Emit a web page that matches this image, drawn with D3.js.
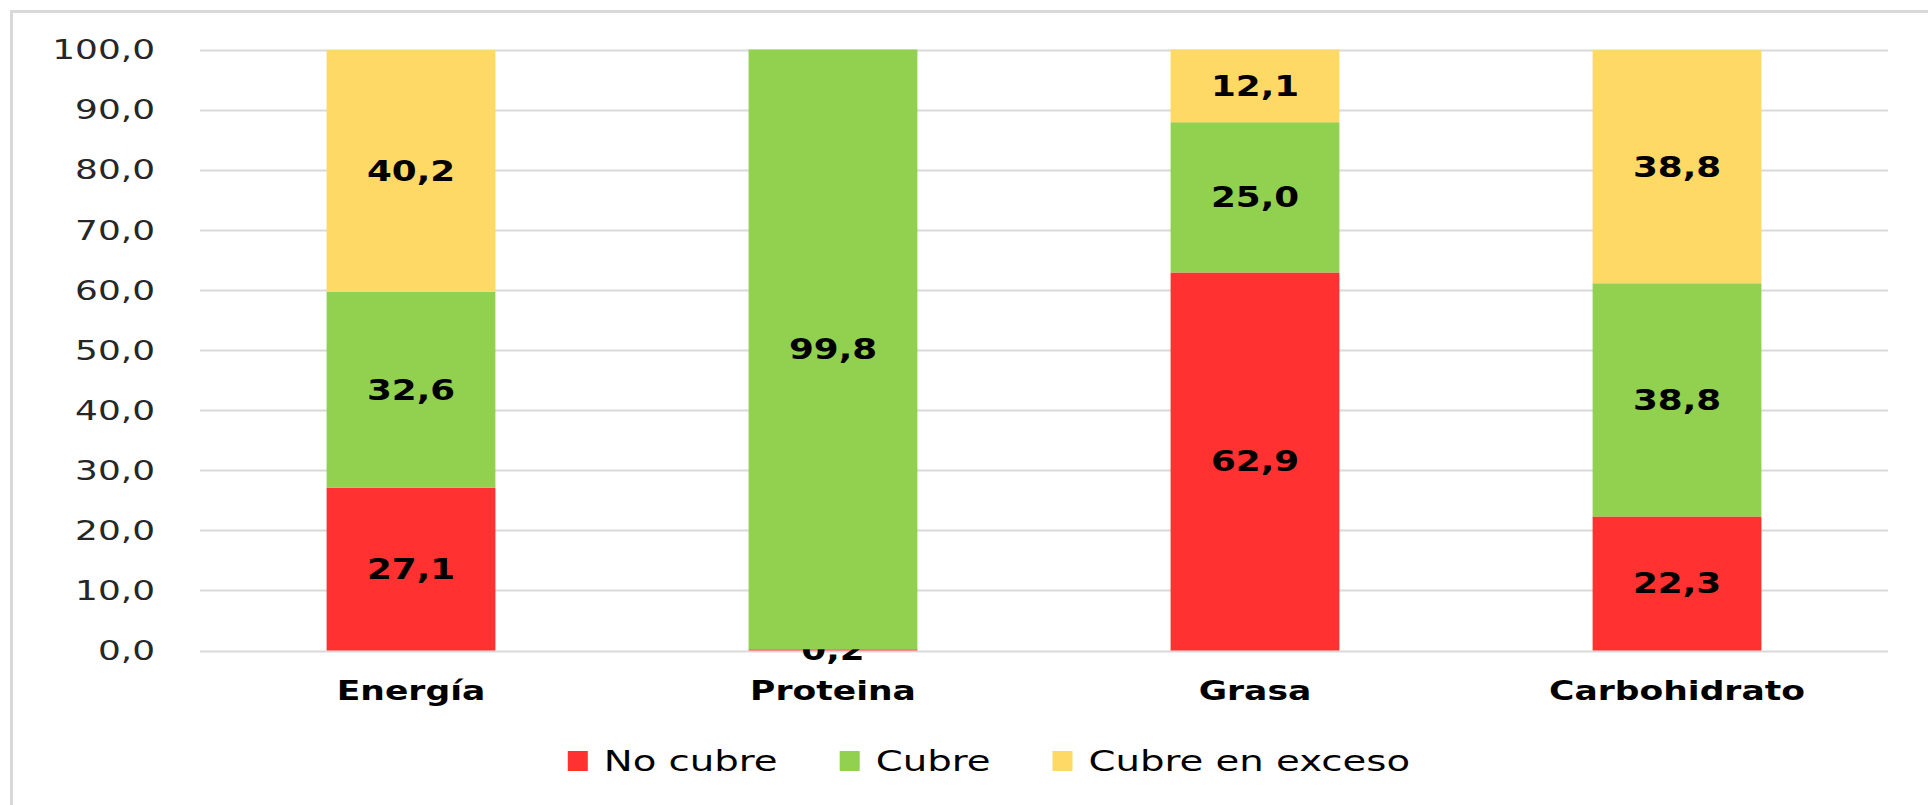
<!DOCTYPE html>
<html>
<head>
<meta charset="utf-8">
<script src="https://cdn.jsdelivr.net/npm/d3@7"></script>
<style>
  body { margin: 0; background: #fff; }
</style>
</head>
<body>
<script>
var categories = ["Energía", "Proteina", "Grasa", "Carbohidrato"];
var noCubre = [27.1, 0.2, 62.9, 22.3];
var cubre = [32.6, 99.8, 25.0, 38.8];
var exceso = [40.2, 0, 12.1, 38.8];
var seriesNames = ["No cubre", "Cubre", "Cubre en exceso"];
var seriesColors = ["#FF3131", "#92D050", "#FFD966"];
var yTicks = [0, 10, 20, 30, 40, 50, 60, 70, 80, 90, 100];

var width = 1928, height = 805;
var plotLeft = 200, plotRight = 1888, plotTop = 49.5, plotBottom = 650.5;

var fmt = function(v) { return v.toFixed(1).replace(".", ","); };

var table = categories.map(function(c, i) {
  return { cat: c, noCubre: noCubre[i], cubre: cubre[i], exceso: exceso[i] };
});
var stack = d3.stack().keys(["noCubre", "cubre", "exceso"])(table);

var svg = d3.select("body").append("svg")
  .attr("width", width)
  .attr("height", height)
  .style("display", "block");

// chart frame (only top and left edges are in view)
svg.append("rect")
  .attr("x", 11.5).attr("y", 11.5)
  .attr("width", 2000).attr("height", 1000)
  .attr("fill", "none")
  .attr("stroke", "#d9d9d9")
  .attr("stroke-width", 3);

var x = d3.scaleBand().domain(categories).range([plotLeft, plotRight])
  .paddingInner(0.6).paddingOuter(0.3);
var y = d3.scaleLinear().domain([0, 100]).range([plotBottom, plotTop]);

// gridlines
svg.append("g").selectAll("line")
  .data(yTicks)
  .enter().append("line")
  .attr("x1", plotLeft).attr("x2", plotRight)
  .attr("y1", function(d) { return Math.round(y(d)) + 0.5; })
  .attr("y2", function(d) { return Math.round(y(d)) + 0.5; })
  .attr("stroke", "#d9d9d9")
  .attr("stroke-width", 2);

// y tick labels
svg.append("g").selectAll("text")
  .data(yTicks)
  .enter().append("text")
  .text(function(d) { return fmt(d); })
  .attr("transform", function(d) { return "translate(155," + y(d) + ") scale(1.33,1)"; })
  .attr("text-anchor", "end")
  .attr("dy", "0.36em")
  .attr("font-family", "DejaVu Sans")
  .attr("font-size", 27)
  .attr("fill", "#262626");

// bars
var layers = svg.append("g").selectAll("g")
  .data(stack)
  .enter().append("g")
  .attr("fill", function(d, i) { return seriesColors[i]; });

layers.selectAll("rect")
  .data(function(d) { return d; })
  .enter().append("rect")
  .attr("x", function(d) { return x(d.data.cat); })
  .attr("y", function(d) { return y(d[1]); })
  .attr("width", x.bandwidth())
  .attr("height", function(d) { return y(d[0]) - y(d[1]); });

// data labels
layers.selectAll("text")
  .data(function(d) { return d.filter(function(p) { return p[1] - p[0] > 0; }); })
  .enter().append("text")
  .text(function(d) { return fmt(d[1] - d[0]); })
  .attr("transform", function(d) {
    return "translate(" + (x(d.data.cat) + x.bandwidth() / 2) + "," + y((d[0] + d[1]) / 2) + ") scale(1.3,1)";
  })
  .attr("text-anchor", "middle")
  .attr("dy", "0.36em")
  .attr("font-family", "DejaVu Sans")
  .attr("font-weight", "bold")
  .attr("font-size", 27.5)
  .attr("fill", "#000");

// category labels
svg.append("g").selectAll("text")
  .data(categories)
  .enter().append("text")
  .text(function(d) { return d; })
  .attr("transform", function(d) { return "translate(" + (x(d) + x.bandwidth() / 2) + ",700) scale(1.28,1)"; })
  .attr("text-anchor", "middle")
  .attr("font-family", "DejaVu Sans")
  .attr("font-weight", "bold")
  .attr("font-size", 27)
  .attr("fill", "#000");

// legend
var legend = svg.append("g");
var items = legend.selectAll("g")
  .data(seriesNames)
  .enter().append("g");
items.append("rect")
  .attr("width", 20).attr("height", 20)
  .attr("y", 751)
  .attr("fill", function(d, i) { return seriesColors[i]; });
items.append("text")
  .text(function(d) { return d; })
  .attr("font-family", "DejaVu Sans")
  .attr("font-size", 28)
  .attr("fill", "#000");

var sxLegend = 1.38, pos = 0;
items.each(function(d, i) {
  var t = d3.select(this).select("text");
  var w = t.node().getComputedTextLength() * sxLegend;
  d3.select(this).select("rect").attr("x", pos);
  t.attr("transform", "translate(" + (pos + 36) + ",771) scale(" + sxLegend + ",1)");
  pos += 36 + w + 62;
});
var legendWidth = pos - 62;
legend.attr("transform", "translate(" + (989 - legendWidth / 2) + ",0)");
</script>
</body>
</html>
